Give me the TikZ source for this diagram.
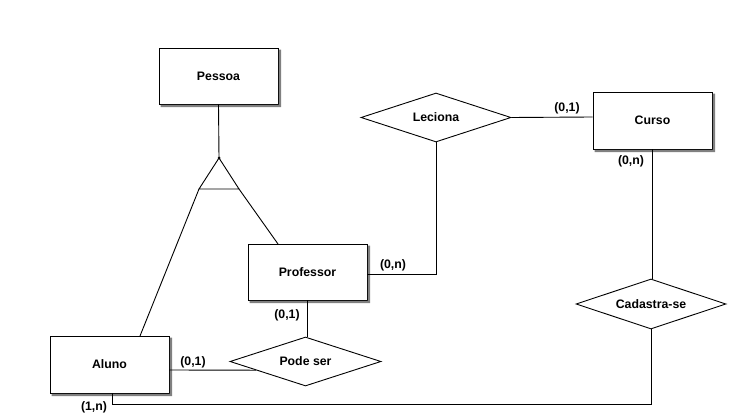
\documentclass[tikz,border=0pt]{standalone}
\usepackage{fontspec}
\setmainfont{Liberation Sans}
\usetikzlibrary{shapes.geometric}
\begin{document}
\begin{tikzpicture}[x=1pt,y=-1pt,line width=0.9pt,
  every node/.style={font=\fontsize{12.3}{14}\selectfont\bfseries},
  entity/.style={draw,fill=white,rectangle,inner sep=0pt,minimum width=119pt,minimum height=56pt},
  rel/.style={draw,fill=white,diamond,aspect=3,inner sep=0pt,minimum width=150pt,minimum height=49pt},
  shadowstrip/.style={fill=black!50,draw=none},
  card/.style={inner sep=0pt}]
\useasboundingbox (0,0) rectangle (730,419);
% entities
\node[entity] (Pessoa) at (218.5,76) {Pessoa};
\node[entity] (Professor) at (307.5,272) {Professor};
\node[entity,minimum height=57pt] (Aluno) at (109.5,364.5) {Aluno};
\node[entity,minimum height=57pt] (Curso) at (652.5,120.5) {Curso};
\foreach \n in {Pessoa,Professor,Aluno,Curso}{
  \fill[shadowstrip] ([shift={(0.45,2)}]\n.north east) -- ([shift={(2.6,2)}]\n.north east)
    -- ([shift={(2.6,2.6)}]\n.south east) -- ([shift={(2,2.6)}]\n.south west)
    -- ([shift={(2,0.45)}]\n.south west) -- ([shift={(0.45,0.45)}]\n.south east) -- cycle;
}
% relationships
\node[rel] (Leciona) at (436,117.5) {Leciona};
\node[rel,minimum width=151pt] (PodeSer) at (305.5,361.5) {Pode ser};
\node[rel,minimum height=50pt] (Cadastra) at (651,304) {Cadastra-se};
% generalization triangle
\coordinate (apex) at (219,158);
\coordinate (tl) at (199,189);
\coordinate (tr) at (239,189);
\coordinate (alunoTop) at (140,336);
\coordinate (profTop) at (278,244);
\draw (Pessoa.south) -- (apex);
\draw (apex) -- (tl) -- (tr) -- cycle;
\fill (apex) circle (1.5pt);
\draw (tl) -- (alunoTop);
\draw (tr) -- (profTop);
% connectors
\coordinate (pe) at (367,274);
\draw (pe) -| (Leciona.south);
\coordinate (le) at (511,117);
\draw (Leciona.east) -- (le -| Curso.west);
\draw (Curso.south) -- (Curso.south |- Cadastra.north);
\coordinate (c1) at (651,404);
\coordinate (c2) at (112,404);
\draw (Cadastra.south) -- (c1) -- (c2) -- (c2 |- Aluno.south);
\coordinate (ae) at (169,370);
\draw (ae) -- (PodeSer.190);
\draw (Professor.south) -- (Professor.south |- PodeSer.north);
% cardinalities
\node[card] (k1) at (393,265) {(0,n)};
\node[card] (k2) at (287,315) {(0,1)};
\node[card] (k3) at (193,362) {(0,1)};
\node[card] (k4) at (94,407) {(1,n)};
\node[card] (k5) at (567,108) {(0,1)};
\node[card] (k6) at (631,161) {(0,n)};
\end{tikzpicture}
\end{document}
